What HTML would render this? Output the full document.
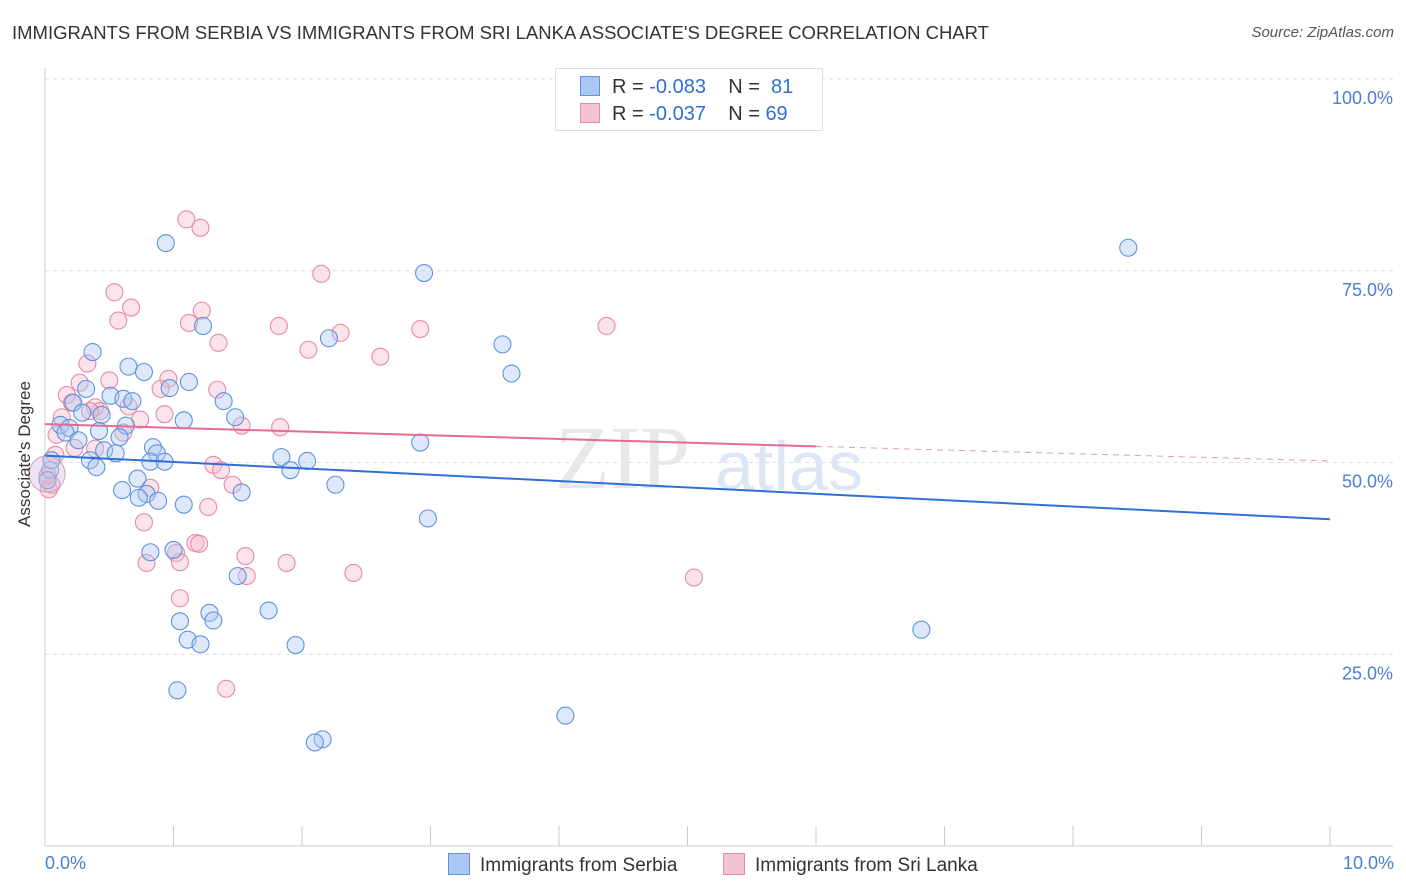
<!DOCTYPE html>
<html><head><meta charset="utf-8"><style>
body{margin:0;background:#fff;font-family:"Liberation Sans",sans-serif;}
#wrap{position:relative;width:1406px;height:892px;overflow:hidden}
.t{position:absolute;white-space:nowrap}
</style></head><body>
<div id="wrap">
<div class="t" style="left:12px;top:22px;font-size:18.5px;color:#333">IMMIGRANTS FROM SERBIA VS IMMIGRANTS FROM SRI LANKA ASSOCIATE'S DEGREE CORRELATION CHART</div>
<div class="t" style="right:12px;top:24px;font-size:15px;color:#555;font-style:italic">Source: ZipAtlas.com</div>
<svg id="svg" width="1406" height="892" style="position:absolute;left:0;top:0"></svg>
</div>
<script>
const yTicks=[25,50,75,100];
const yTickLabels=["25.0%","50.0%","75.0%","100.0%"];
const xTickVals=[0,1,2,3,4,5,6,7,8,9,10];
const serbiaX=[0.94,2.95,8.43,1.23,2.21,3.56,3.63,0.37,0.65,0.77,1.12,0.97,0.32,0.51,0.61,0.68,1.39,0.22,0.29,0.44,1.48,1.08,0.12,0.19,0.63,0.16,0.42,0.58,0.26,0.84,2.92,0.46,0.55,0.87,1.84,2.04,0.35,0.82,0.93,0.40,1.91,0.72,2.26,0.60,1.53,0.79,0.73,0.88,1.08,2.98,0.82,1.00,1.50,1.28,1.74,1.31,1.05,1.11,1.21,1.95,6.82,1.03,4.05,2.16,2.10,0.04,0.02,0.05];
const serbiaY=[78.6,74.7,78.0,67.8,66.2,65.4,61.6,64.4,62.5,61.8,60.5,59.7,59.6,58.7,58.3,58.0,58.0,57.8,56.5,56.2,55.9,55.5,54.9,54.5,54.8,53.9,54.1,53.3,52.9,52.0,52.6,51.6,51.2,51.2,50.7,50.2,50.3,50.1,50.1,49.4,49.0,47.9,47.1,46.4,46.1,45.9,45.4,45.0,44.5,42.7,38.3,38.6,35.2,30.4,30.7,29.4,29.3,26.9,26.3,26.2,28.2,20.3,17.0,13.9,13.5,49.0,47.7,50.3];
const lankaX=[1.10,1.21,2.15,0.54,0.67,0.57,1.22,1.12,1.82,2.92,4.37,2.30,1.35,2.05,2.61,0.33,0.27,0.50,0.96,1.34,0.90,0.17,0.21,0.39,0.65,0.43,0.35,0.13,0.93,0.74,0.61,1.53,1.83,0.09,0.23,0.39,1.31,1.37,1.46,1.27,0.77,1.17,1.20,1.56,1.02,1.05,0.79,1.88,1.57,2.40,5.05,1.05,1.41,0.82,0.03,0.05,0.08,0.02];
const lankaY=[81.7,80.6,74.6,72.2,70.2,68.5,69.8,68.2,67.8,67.4,67.8,66.9,65.6,64.7,63.8,62.9,60.4,60.7,60.9,59.5,59.6,58.8,57.8,57.2,57.3,56.7,56.7,55.9,56.3,55.6,53.9,54.8,54.6,53.6,51.9,51.8,49.7,49.0,47.1,44.2,42.2,39.5,39.4,37.8,38.2,37.0,36.9,36.9,35.2,35.6,35.0,32.3,20.5,46.7,46.5,47.1,51.0,48.3];
const trendSerbia=[50.9,42.6];
const trendLanka=[55.0,52.1,50.2];
const NS="http://www.w3.org/2000/svg";
const svg=document.getElementById('svg');
const X0=45,X1=1330,Y0=846,Y100=79;
const xs=v=>X0+(X1-X0)*v/10;
const ys=v=>Y0-(Y0-Y100)*v/100;
function mk(t,a){const e=document.createElementNS(NS,t);for(const k in a)e.setAttribute(k,a[k]);svg.appendChild(e);return e;}
yTicks.forEach((v,i)=>{
 const g=mk('line',{x1:X0,x2:1393,y1:ys(v),y2:ys(v),stroke:'#ddd','stroke-dasharray':'4,4'});
 
 
 const t=mk('text',{x:1393,y:ys(v)+25,'text-anchor':'end','font-size':18,fill:'#4a7fd4'});
 t.textContent=yTickLabels[i];
 
 
});
const ax=mk('line',{x1:X0,x2:1393,y1:Y0,y2:Y0,stroke:'#ccc'});


const ay=mk('line',{x1:X0,x2:X0,y1:68,y2:Y0,stroke:'#ccc'});


xTickVals.forEach(v=>{
 const l=mk('line',{x1:xs(v),x2:xs(v),y1:826,y2:Y0,stroke:'#ccc'});
 
 
});
const wm=mk('text',{x:555,y:488,'font-size':90,fill:'#e8e8e8','font-family':'Liberation Serif'});
wm.textContent='ZIP';


const wm2=mk('text',{x:715,y:490,'font-size':70,fill:'#dde6f4'});
wm2.textContent='atlas';


function pts(X,Y,fill,stroke,name){
 X.forEach((x,i)=>{
  const c=mk('circle',{cx:xs(x),cy:ys(Y[i]),r:8.5,fill:fill,'fill-opacity':0.4,stroke:stroke,'stroke-width':1.1});
  
  
 });
}
pts(lankaX,lankaY,'#f5b8cc','#e68aa8','point-sri-lanka');
pts(serbiaX,serbiaY,'#a9c7f2','#5f93dc','point-serbia');
const big=mk('circle',{cx:47,cy:ys(48.5),r:18,fill:'#d8b8d8','fill-opacity':0.4,stroke:'#c9a0c9'});


const tb=mk('line',{x1:xs(0),x2:xs(10),y1:ys(trendSerbia[0]),y2:ys(trendSerbia[1]),stroke:'#2f6fd6','stroke-width':2});


const tp=mk('line',{x1:xs(0),x2:xs(6),y1:ys(trendLanka[0]),y2:ys(trendLanka[1]),stroke:'#e56a94','stroke-width':2});


const td=mk('line',{x1:xs(6),x2:xs(10),y1:ys(trendLanka[1]),y2:ys(trendLanka[2]),stroke:'#e89ab5','stroke-width':1,'stroke-dasharray':'6,5'});


</script>
<div class="t" style="left:-48px;top:444px;font-size:17px;color:#333;transform:rotate(-90deg)">Associate's Degree</div>
<div class="t" style="left:45px;top:853px;font-size:18px;color:#4a7fd4">0.0%</div>
<div class="t" style="right:12px;top:853px;font-size:18px;color:#4a7fd4">10.0%</div>
<div style="position:absolute;left:555px;top:68px;width:266px;height:61px;border:1px solid #ddd;background:#fff;font-size:20px;color:#333">
 <div class="t" style="left:26px;top:7px"><span style="display:inline-block;width:18px;height:18px;background:#a9c7f2;border:1px solid #5f93dc;vertical-align:-3px;margin-right:12px;margin-left:-2px"></span>R = <span style="color:#2f6fd6">-0.083</span>&nbsp;&nbsp;&nbsp; N = &nbsp;<span style="color:#2f6fd6">81</span></div>
 <div class="t" style="left:26px;top:34px"><span style="display:inline-block;width:18px;height:18px;background:#f5c4d4;border:1px solid #e68aa8;vertical-align:-3px;margin-right:12px;margin-left:-2px"></span>R = <span style="color:#2f6fd6">-0.037</span>&nbsp;&nbsp;&nbsp; N = <span style="color:#2f6fd6">69</span></div>
</div>
<div class="t" style="left:448px;top:853px;font-size:19px;color:#333"><span style="display:inline-block;width:20px;height:20px;background:#a9c7f2;border:1px solid #5f93dc;vertical-align:-4px;margin-right:10px"></span>Immigrants from Serbia</div>
<div class="t" style="left:723px;top:853px;font-size:19px;color:#333"><span style="display:inline-block;width:20px;height:20px;background:#f5c4d4;border:1px solid #e68aa8;vertical-align:-4px;margin-right:10px"></span>Immigrants from Sri Lanka</div>
</body></html>
